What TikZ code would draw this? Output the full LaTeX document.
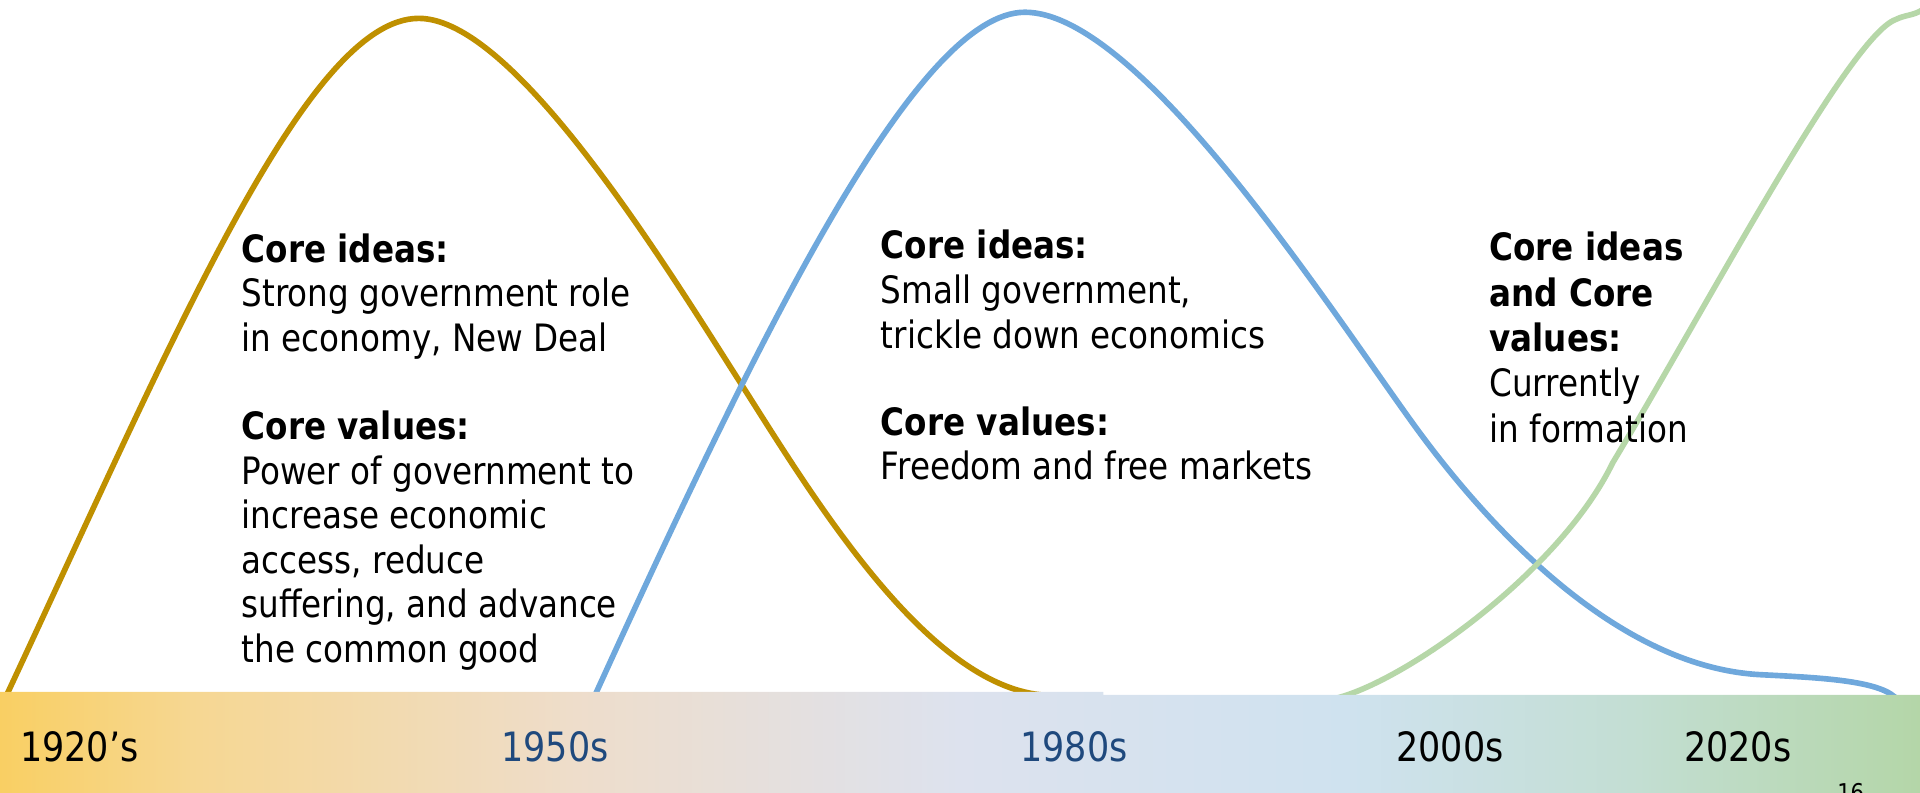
\documentclass[tikz,border=0pt]{standalone}
\usepackage{fontspec}
\setmainfont{DejaVu Sans}[FakeStretch=0.865]
\definecolor{gold}{HTML}{BF9000}
\definecolor{bluec}{HTML}{6FA8DC}
\definecolor{greenc}{HTML}{B6D7A8}
\definecolor{yearblue}{HTML}{1F497D}
\definecolor{s0}{HTML}{F9CF63}
\definecolor{s1}{HTML}{F6D792}
\definecolor{s2}{HTML}{EEDDCB}
\definecolor{s3}{HTML}{DDE2EE}
\definecolor{s4}{HTML}{CFE2EF}
\definecolor{s5}{HTML}{C3DED3}
\definecolor{s6}{HTML}{B4D6A8}
\pgfdeclarehorizontalshading{barshade}{100bp}{color(0bp)=(s0); color(25bp)=(s0); color(30bp)=(s1); color(40bp)=(s2); color(50bp)=(s3); color(60bp)=(s4); color(67.5bp)=(s5); color(75bp)=(s6); color(100bp)=(s6)}
\newcommand{\blocktext}[1]{\begin{tabular}[t]{@{}l@{}}#1\end{tabular}}
\tikzset{
  curve/.style={line width=2.3pt},
  blk/.style={anchor=base west, inner sep=0pt, font=\fontsize{15.4}{18.2}\selectfont},
  year/.style={anchor=base west, inner sep=0pt, font=\fontsize{16.5}{19}\selectfont}
}
\begin{document}
\begin{tikzpicture}[x=0.5pt,y=-0.5pt]
\useasboundingbox (0,0) rectangle (1568,647.6);
% curves
\draw[curve, gold] (2,575) .. controls (140,280) and (250,15) .. (342,15)
  .. controls (420,15) and (543,216) .. (603,310)
  .. controls (663,404) and (760,568) .. (860,568);
\draw[curve, bluec] (484,572) .. controls (624,264) and (750,10) .. (837,10)
  .. controls (930,10) and (1084,249) .. (1154,346)
  .. controls (1214,429) and (1320,545) .. (1438,551)
  .. controls (1490,553.6) and (1538,556) .. (1550,572);
\draw[curve, greenc] (1092,570) .. controls (1150,555) and (1275,465) .. (1317,378)
  .. controls (1394,250) and (1510,30) .. (1548,16)
  .. controls (1556,12) and (1562,13) .. (1570,8);
% bar
\shade[shading=barshade] (0,565) -- (901,565) -- (901,567.5) -- (1568,567.5) -- (1568,648) -- (0,648) -- cycle;
% text blocks
\node[blk] (g1) at (197,214) {\blocktext{\textbf{Core ideas:}\\Strong government role\\in economy, New Deal}};
\node[blk] (g2) at (197,359) {\blocktext{\textbf{Core values:}\\Power of government to\\increase economic\\access, reduce\\suffering, and advance\\the common good}};
\node[blk] (b1) at (719,211.5) {\blocktext{\textbf{Core ideas:}\\Small government,\\trickle down economics}};
\node[blk] (b2) at (719,355.5) {\blocktext{\textbf{Core values:}\\Freedom and free markets}};
\node[blk, font=\fontsize{15.4}{18.5}\selectfont] (gr1) at (1216,213) {\blocktext{\textbf{Core ideas}\\\textbf{and Core}\\\textbf{values:}\\Currently\\in formation}};
% years
\node[year] (y1) at (16,622) {1920’s};
\node[year, text=yearblue] (y2) at (409,622) {1950s};
\node[year, text=yearblue] (y3) at (833,622) {1980s};
\node[year] (y4) at (1140,622) {2000s};
\node[year] (y5) at (1375,622) {2020s};
\node[anchor=north west, inner sep=0pt, font=\fontsize{10}{12}\selectfont] (pg) at (1500,639) {16};
\end{tikzpicture}
\end{document}
